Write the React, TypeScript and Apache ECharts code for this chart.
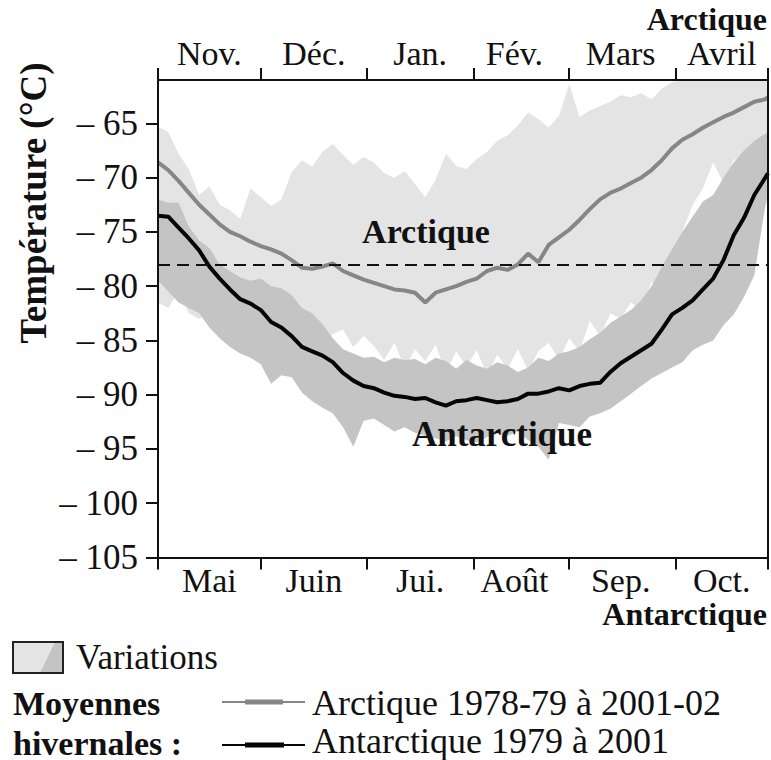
import React, { useEffect, useRef } from "react";
import * as echarts from "echarts";

// Days counted from the first day of the first month (Nov. 1 / May 1)
const DAYS = [
  0, 3, 6, 9, 12, 15, 18, 21, 24, 27,
  30, 33, 36, 39, 42, 45, 48, 51, 54, 57,
  60, 63, 66, 69, 72, 75, 78, 81, 84, 87,
  90, 93, 96, 99, 102, 105, 108, 111, 114, 117,
  120, 123, 126, 129, 132, 135, 138, 141, 144, 147,
  150, 153, 156, 159, 162, 165, 168, 171, 174, 177,
  178,
];

const ARCTIC_MEAN = [
  -68.6, -69.3, -70.3, -71.4, -72.5, -73.4, -74.3, -75.0, -75.4, -75.9,
  -76.3, -76.6, -77.0, -77.6, -78.3, -78.4, -78.2, -77.9, -78.6, -79.0,
  -79.4, -79.7, -80.0, -80.3, -80.4, -80.6, -81.5, -80.6, -80.3, -80.0,
  -79.6, -79.3, -78.6, -78.3, -78.5, -78.0, -77.0, -77.8, -76.2, -75.5,
  -74.8, -73.9, -72.9, -72.0, -71.4, -71.0, -70.5, -70.0, -69.3, -68.4,
  -67.3, -66.5, -66.0, -65.4, -64.9, -64.4, -64.0, -63.5, -63.0, -62.8,
  -62.6,
];

const ANTARCTIC_MEAN = [
  -73.5, -73.6, -74.6, -75.6, -76.7, -78.2, -79.3, -80.3, -81.2, -81.6,
  -82.2, -83.3, -83.8, -84.6, -85.6, -86.0, -86.4, -87.0, -88.0, -88.7,
  -89.2, -89.4, -89.8, -90.1, -90.2, -90.4, -90.3, -90.7, -91.0, -90.6,
  -90.5, -90.3, -90.5, -90.7, -90.6, -90.4, -89.9, -89.9, -89.7, -89.4,
  -89.6, -89.2, -89.0, -88.9, -87.9, -87.1, -86.5, -85.9, -85.3, -84.0,
  -82.6, -82.0, -81.3, -80.3, -79.3, -77.6, -75.3, -73.7, -71.6, -70.1,
  -69.6,
];

const ARCTIC_HIGH = [
  -65.3, -65.8, -67.8, -69.2, -71.6, -70.8, -72.5, -73.0, -73.8, -71.0,
  -71.8, -72.6, -72.0, -69.5, -68.4, -69.0, -67.6, -66.9, -67.9, -68.8,
  -68.1, -68.6, -69.6, -70.0, -69.4, -70.6, -71.8, -70.2, -67.8, -68.9,
  -69.2, -68.3, -67.6, -66.6, -66.1, -65.2, -64.0, -64.6, -65.4, -64.3,
  -61.4, -64.4, -63.8, -63.4, -63.0, -62.4, -62.6, -62.2, -62.8, -61.8,
  -61.2, -60.6, -61.0, -60.4, -60.2, -60.5, -60.1, -60.3, -60.0, -60.2,
  -60.2,
];

const ARCTIC_LOW = [
  -81.5, -82.0, -80.5, -82.5, -83.0, -82.6, -83.5, -83.0, -84.0, -83.6,
  -83.8, -84.4, -83.2, -84.5, -85.0, -84.0, -85.5, -84.4, -84.0, -85.6,
  -84.6, -85.5, -86.8, -85.2, -87.5, -85.8, -86.9, -85.4, -88.0, -86.0,
  -87.4, -85.9, -88.2, -86.3, -87.6, -85.8, -87.8, -86.0, -85.2, -86.8,
  -84.8, -86.0, -83.2, -84.6, -82.5, -83.0, -81.5, -82.2, -79.6, -80.8,
  -77.0, -75.0, -72.5, -71.0, -68.6, -70.5, -68.4, -67.8, -67.0, -66.5,
  -66.3,
];

const ANTARCTIC_HIGH = [
  -72.0, -72.3, -72.3, -74.5, -75.8, -76.5, -78.0, -78.6, -79.2, -79.5,
  -79.3, -80.0, -80.2, -80.8, -82.0, -82.5, -83.5, -84.8, -85.8, -86.2,
  -86.6, -86.5, -87.0, -86.6, -86.8, -86.7, -87.2, -86.6, -86.9, -87.6,
  -86.8, -87.3, -87.6, -87.0, -87.3, -87.9, -87.5, -86.6, -86.9, -86.2,
  -86.0, -85.6, -84.9, -84.3, -83.4, -82.8, -82.2, -81.3, -80.0, -78.2,
  -76.6, -75.0, -73.6, -72.2, -71.6, -70.0, -68.6, -67.5, -66.6, -66.0,
  -65.8,
];

const ANTARCTIC_LOW = [
  -79.5, -80.5, -81.5, -82.0, -82.5, -83.8, -84.8, -85.6, -86.2, -86.6,
  -87.2, -89.0, -88.2, -88.4, -89.8, -90.6, -91.2, -91.7, -93.0, -94.8,
  -92.4, -92.2, -92.8, -93.4, -93.0, -93.5, -93.8, -94.0, -94.3, -93.8,
  -94.2, -94.4, -93.9, -93.6, -93.8, -93.4, -94.2, -94.8, -96.0, -92.6,
  -92.8, -93.0, -92.0, -91.7, -91.3, -90.6, -89.9, -89.2, -88.5, -88.0,
  -87.5, -87.0, -85.9, -85.4, -85.0, -83.6, -82.6, -81.0, -79.0, -73.0,
  -71.5,
];

const ARCTIC_MONTHS = ["Nov.", "Déc.", "Jan.", "Fév.", "Mars", "Avril"];
const ANTARCTIC_MONTHS = ["Mai", "Juin", "Jui.", "Août", "Sep.", "Oct."];
const MONTH_LABEL_DAYS = [15, 45.5, 76.5, 104, 135, 164.5];
const MONTH_TICK_DAYS = [0, 30, 61, 92, 120, 151, 178];
const TEMP_TICKS = [-105, -100, -95, -90, -85, -80, -75, -70, -65];
const THRESHOLD = -78;

const X_MIN = 0;
const X_MAX = 178;
const Y_MIN = -105;
const Y_MAX = -61;

const SERIF = "Liberation Serif";
const INK = "#111111";
const LIGHT = "#e4e4e4";
const MEDIUM = "#c4c4c4";
const ARCTIC_GREY = "#868686";

function monthIndex(v: number): number {
  return MONTH_LABEL_DAYS.findIndex((d) => Math.abs(d - v) < 0.01);
}

function bandSeries(high: number[], low: number[], fill: string) {
  return {
    type: "custom",
    clip: true,
    silent: true,
    xAxisIndex: 0,
    yAxisIndex: 0,
    data: [[X_MIN, Y_MIN]],
    encode: { x: 0, y: 1 },
    renderItem: (_params: any, api: any) => {
      const clamp = (v: number) => Math.max(Y_MIN, Math.min(Y_MAX, v));
      const top = DAYS.map((d, i) => api.coord([d, clamp(high[i])]));
      const bottom = DAYS.map((d, i) => api.coord([d, clamp(low[i])])).reverse();
      return {
        type: "polygon",
        shape: { points: top.concat(bottom) },
        style: { fill, stroke: null },
      };
    },
  };
}

function label(
  text: string,
  x: number,
  y: number,
  size: number,
  bold: boolean,
  align: string,
  rotation = 0
) {
  return {
    type: "text",
    x,
    y,
    rotation,
    z: 100,
    style: {
      text,
      fontSize: size,
      fontFamily: SERIF,
      fontWeight: bold ? "bold" : "normal",
      fill: INK,
      align,
      verticalAlign: "middle",
    },
  };
}

export default function App() {
  const ref = useRef<HTMLDivElement>(null);

  useEffect(() => {
    if (!ref.current) return;
    const chart = echarts.init(ref.current, null, { renderer: "svg" });

    const axisLineStyle = { color: INK, width: 2 };

    const xCommon = {
      type: "value",
      min: X_MIN,
      max: X_MAX,
      axisLine: { show: true, onZero: false, lineStyle: axisLineStyle },
      axisTick: {
        show: true,
        length: 12,
        lineStyle: axisLineStyle,
        customValues: MONTH_TICK_DAYS,
      },
      splitLine: { show: false },
      z: 10,
    };

    const option: any = {
      animation: false,
      textStyle: { fontFamily: SERIF },
      grid: {
        left: 158,
        right: 3,
        top: 80,
        bottom: 202.5,
        containLabel: false,
        outerBoundsMode: "none",
      },
      xAxis: [
        {
          ...xCommon,
          position: "bottom",
          axisLabel: {
            customValues: MONTH_LABEL_DAYS,
            formatter: (v: number) => ANTARCTIC_MONTHS[monthIndex(v)] ?? "",
            fontSize: 34,
            fontFamily: SERIF,
            color: INK,
            margin: 6,
          },
        },
        {
          ...xCommon,
          position: "top",
          axisLabel: {
            customValues: MONTH_LABEL_DAYS,
            formatter: (v: number) => ARCTIC_MONTHS[monthIndex(v)] ?? "",
            fontSize: 34,
            fontFamily: SERIF,
            color: INK,
            margin: 10,
          },
        },
      ],
      yAxis: [
        {
          type: "value",
          min: Y_MIN,
          max: Y_MAX,
          position: "left",
          axisLine: { show: true, onZero: false, lineStyle: axisLineStyle },
          axisTick: {
            show: true,
            length: 12,
            lineStyle: axisLineStyle,
            customValues: TEMP_TICKS,
          },
          axisLabel: {
            customValues: TEMP_TICKS,
            formatter: (v: number) => "– " + Math.abs(v),
            fontSize: 35,
            fontFamily: SERIF,
            color: INK,
            margin: 20,
          },
          splitLine: { show: false },
          z: 10,
        },
        {
          type: "value",
          min: Y_MIN,
          max: Y_MAX,
          position: "right",
          axisLine: { show: true, onZero: false, lineStyle: axisLineStyle },
          axisTick: { show: false },
          axisLabel: { show: false },
          splitLine: { show: false },
          z: 10,
        },
      ],
      series: [
        bandSeries(ARCTIC_HIGH, ARCTIC_LOW, LIGHT),
        bandSeries(ANTARCTIC_HIGH, ANTARCTIC_LOW, MEDIUM),
        {
          type: "line",
          name: "Arctique",
          xAxisIndex: 0,
          yAxisIndex: 0,
          data: DAYS.map((d, i) => [d, ARCTIC_MEAN[i]]),
          symbol: "none",
          lineStyle: { color: ARCTIC_GREY, width: 4 },
          silent: true,
          z: 3,
        },
        {
          type: "line",
          name: "Antarctique",
          xAxisIndex: 0,
          yAxisIndex: 0,
          data: DAYS.map((d, i) => [d, ANTARCTIC_MEAN[i]]),
          symbol: "none",
          lineStyle: { color: "#050505", width: 4 },
          silent: true,
          z: 4,
          markLine: {
            silent: true,
            symbol: ["none", "none"],
            label: { show: false },
            lineStyle: { type: [12, 7], color: INK, width: 2 },
            data: [{ yAxis: THRESHOLD }],
          },
        },
      ],
      graphic: [
        label("Température (°C)", 33, 203, 37, true, "center", Math.PI / 2),
        label("Arctique", 767, 19, 32, true, "right"),
        label("Antarctique", 767, 614, 32, true, "right"),
        label("Arctique", 426, 231, 34, true, "center"),
        label("Antarctique", 502, 434, 35, true, "center"),
        // Legend swatch
        {
          type: "rect",
          z: 100,
          shape: { x: 13, y: 642, width: 50, height: 31 },
          style: { fill: LIGHT },
        },
        {
          type: "polygon",
          z: 101,
          shape: { points: [[55, 642], [63, 642], [63, 673], [40, 673]] },
          style: { fill: MEDIUM },
        },
        {
          type: "rect",
          z: 102,
          shape: { x: 13, y: 642, width: 50, height: 31 },
          style: { fill: "none", stroke: "#222", lineWidth: 2 },
        },
        label("Variations", 76, 657, 35, false, "left"),
        label("Moyennes", 13, 703, 34, true, "left"),
        label("hivernales :", 13, 743, 34, true, "left"),
        {
          type: "line",
          z: 100,
          shape: { x1: 222, y1: 702, x2: 305, y2: 702 },
          style: { stroke: ARCTIC_GREY, lineWidth: 2 },
        },
        {
          type: "line",
          z: 100,
          shape: { x1: 245, y1: 702, x2: 283, y2: 702 },
          style: { stroke: ARCTIC_GREY, lineWidth: 5 },
        },
        {
          type: "line",
          z: 100,
          shape: { x1: 222, y1: 745, x2: 305, y2: 745 },
          style: { stroke: "#050505", lineWidth: 2 },
        },
        {
          type: "line",
          z: 100,
          shape: { x1: 245, y1: 745, x2: 284, y2: 745 },
          style: { stroke: "#050505", lineWidth: 5 },
        },
        label("Arctique 1978-79 à 2001-02", 312, 703, 36, false, "left"),
        label("Antarctique 1979 à 2001", 312, 741, 36, false, "left"),
      ],
    };

    chart.setOption(option);
    return () => {
      chart.dispose();
    };
  }, []);

  return (
    <div
      ref={ref}
      style={{ position: "absolute", left: 0, top: 0, width: 771, height: 760, background: "#ffffff" }}
    />
  );
}
